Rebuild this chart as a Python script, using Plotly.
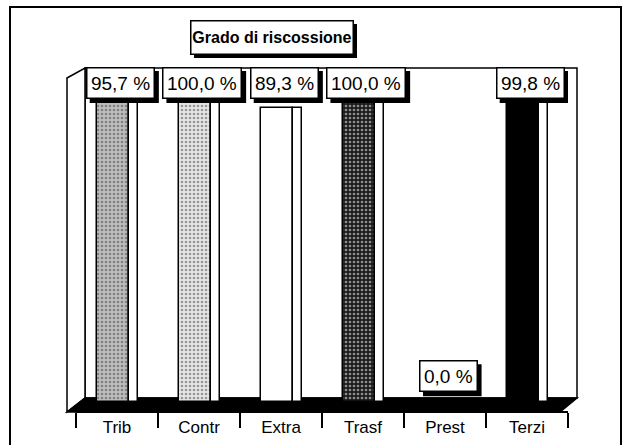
import plotly.graph_objects as go

# ---- data ----
categories = ["Trib", "Contr", "Extra", "Trasf", "Prest", "Terzi"]
values = [95.7, 100.0, 89.3, 100.0, 0.0, 99.8]
title_text = "Grado di riscossione"

# ---- styles ----
fills = ["#bdbdbd", "#e6e6e6", "#ffffff", "#1c1c1c", "#ffffff", "#000000"]
pat_shapes = [".", ".", "", ".", "", ""]
pat_fg = ["#444444", "#999999", "#000000", "#9a9a9a", "#000000", "#000000"]

FONT = "Liberation Sans, Arial, sans-serif"
W, H = 624, 445
def px(x):
    return x / W
def py(y):
    return 1 - y / H

YMAX = 101.5
LAB_SIZE = 19
labels = [("%.1f" % v).replace(".", ",") + " %" for v in values]
CHW = {",": 0.278, " ": 0.278, "%": 0.889}
def text_w(s, size):
    return sum(CHW.get(c, 0.556) for c in s) * size

fig = go.Figure()

# main bar faces
fig.add_trace(go.Bar(
    x=list(range(len(categories))), y=values,
    width=0.39, offset=-0.24,
    marker=dict(color=fills, line=dict(color="black", width=1.5),
                pattern=dict(shape=pat_shapes, fgcolor=pat_fg, size=4, solidity=0.35)),
    hoverinfo="skip", showlegend=False,
))
# side faces (3D depth)
fig.add_trace(go.Bar(
    x=list(range(len(categories))), y=values,
    width=0.1, offset=0.15,
    marker=dict(color="white", line=dict(color="black", width=1.5)),
    hoverinfo="skip", showlegend=False,
))
# invisible trace for the category axis
fig.add_trace(go.Scatter(
    x=categories, y=[0] * len(categories), xaxis="x2", yaxis="y",
    mode="markers", marker=dict(opacity=0), hoverinfo="skip", showlegend=False,
))

annotations = []
shapes = [
    # outer frame
    dict(type="path", xref="paper", yref="paper",
         path="M %f,%f L %f,%f L %f,%f L %f,%f" % (px(10), py(447), px(10), py(7), px(621), py(7), px(621), py(447)),
         line=dict(color="black", width=2), layer="below"),
    # back wall
    dict(type="rect", xref="paper", yref="paper", x0=px(85), y0=py(398), x1=px(577), y1=py(68),
         line=dict(color="black", width=1.5), fillcolor="white", layer="below"),
]

def path(points):
    return "M " + " L ".join("%f,%f" % (px(a), py(b)) for a, b in points) + " Z"

shapes += [
    # left side wall
    dict(type="path", xref="paper", yref="paper",
         path=path([(67, 78), (85, 68), (85, 398), (67, 412)]),
         line=dict(color="black", width=1.5), fillcolor="white", layer="below"),
    # floor
    dict(type="path", xref="paper", yref="paper",
         path=path([(85, 398), (577, 398), (560, 412), (67, 412)]),
         line=dict(color="black", width=1.5), fillcolor="black", layer="below"),
]

BOX_H = 32
for i, (v, lab) in enumerate(zip(values, labels)):
    ylab = min(v + 3, 92.1)
    bw = text_w(lab, LAB_SIZE) + 10
    xc = i + 0.04
    # drop shadow
    shapes.append(dict(
        type="rect", xref="x", yref="y", xsizemode="pixel", ysizemode="pixel",
        xanchor=xc, yanchor=ylab, x0=-bw / 2 + 4, x1=bw / 2 + 4, y0=-4, y1=BOX_H - 4,
        fillcolor="black", line=dict(width=0), layer="above",
    ))
    annotations.append(dict(
        x=xc, y=ylab, xref="x", yref="y", text=lab, showarrow=False,
        xanchor="center", yanchor="bottom", width=bw - 3, height=BOX_H - 3,
        align="center", valign="middle",
        font=dict(family=FONT, size=LAB_SIZE, color="black"),
        bgcolor="white", bordercolor="black", borderwidth=1.5, borderpad=0,
    ))

# title box with shadow
shapes.append(dict(type="rect", xref="paper", yref="paper",
                   x0=px(194), x1=px(357), y0=py(58), y1=py(24),
                   fillcolor="black", line=dict(width=0), layer="above"))
annotations.append(dict(
    x=px(190), y=py(20), xref="paper", yref="paper", text="<b>" + title_text + "</b>",
    showarrow=False, xanchor="left", yanchor="top", width=161, height=32,
    align="center", valign="middle",
    font=dict(family=FONT, size=16, color="black"),
    bgcolor="white", bordercolor="black", borderwidth=1.5, borderpad=0,
))

fig.update_layout(
    width=W, height=H, autosize=False,
    margin=dict(l=0, r=0, t=0, b=0),
    paper_bgcolor="white", plot_bgcolor="rgba(0,0,0,0)",
    bargap=0,
    xaxis=dict(domain=[px(76), px(568)], range=[-0.5, len(categories) - 0.5],
               visible=False, fixedrange=True),
    xaxis2=dict(domain=[px(67), px(560)], type="category", categoryorder="array",
                categoryarray=categories, range=[-0.5, len(categories) - 0.5],
                anchor="free", position=py(412), overlaying="x",
                showline=True, linecolor="black", linewidth=1.5,
                ticks="outside", tickson="boundaries", ticklen=15, tickwidth=2,
                tickcolor="black", showgrid=False, zeroline=False,
                tickfont=dict(family=FONT, size=17, color="black"),
                fixedrange=True),
    yaxis=dict(domain=[py(402), py(68)], range=[0, YMAX], visible=False, fixedrange=True),
    annotations=annotations,
    shapes=shapes,
)

fig.write_html("out.html", config={"displayModeBar": False},
               post_script="document.body.style.margin='0';")
